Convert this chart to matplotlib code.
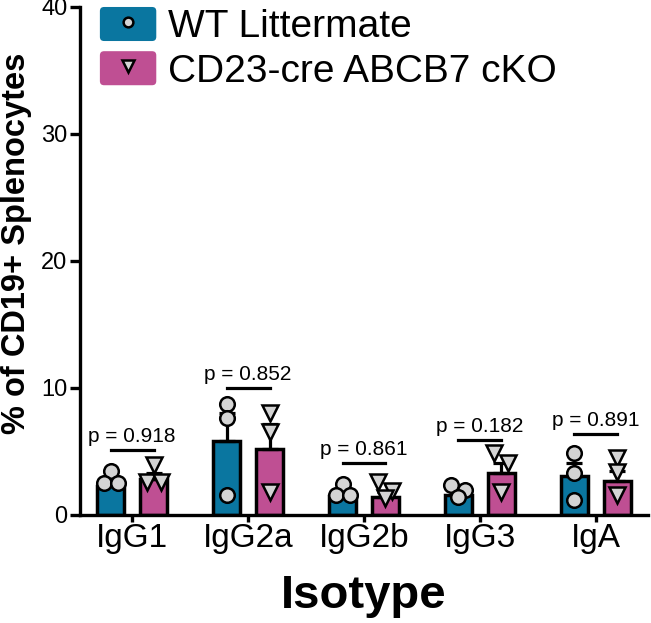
import matplotlib
matplotlib.use("Agg")
import matplotlib.pyplot as plt
import numpy as np
from matplotlib.patches import Patch, FancyBboxPatch
from matplotlib.lines import Line2D
from matplotlib.legend_handler import HandlerPatch, HandlerTuple

plt.rcParams['font.family'] = ['Liberation Sans', 'DejaVu Sans']

isotypes = ['IgG1', 'IgG2a', 'IgG2b', 'IgG3', 'IgA']
groups = ['WT Littermate', 'CD23-cre ABCB7 cKO']

wt_mean = [2.3, 5.85, 1.5, 1.6, 3.1]
wt_sem = [0.4, 2.2, 0.25, 0.3, 1.0]
ko_mean = [2.8, 5.2, 1.4, 3.3, 2.65]
ko_sem = [0.5, 2.0, 0.4, 0.8, 0.85]

wt_points = [[3.5, 2.5, 2.5], [8.75, 7.65, 1.55], [2.45, 1.6, 1.6],
             [2.35, 1.95, 1.4], [4.9, 3.3, 1.2]]
ko_points = [[3.9, 2.6, 2.6], [8.0, 6.5, 1.8], [2.6, 1.9, 1.3],
             [4.85, 4.1, 1.8], [4.45, 3.35, 1.55]]

p_values = ['0.918', '0.852', '0.861', '0.182', '0.891']
p_heights = [5.1, 10.0, 4.1, 5.9, 6.4]

blue = '#0a76a0'
pink = '#bf4f93'
grey = '#d4d4d4'

fig = plt.figure(figsize=(6.51, 6.23), dpi=100)
ax = fig.add_axes([0.1229, 0.1734, 0.8725, 0.8154])
ax.set_xlim(-0.45, 4.45)
ax.set_ylim(0, 40)

x = np.arange(len(isotypes))
off = 0.185
w = 0.23


def spread(xc, vals):
    # put points that sit close in y into one row, centred on the bar
    inv = ax.transData.inverted()
    cx, _ = ax.transData.transform((xc, 0))
    order = sorted(range(len(vals)), key=lambda j: -vals[j])
    rows = []
    for j in order:
        py = ax.transData.transform((xc, vals[j]))[1]
        if rows and abs(rows[-1][0] - py) < 10.5:
            rows[-1][1].append(j)
        else:
            rows.append((py, [j]))
    out = [xc] * len(vals)
    for _, members in rows:
        n = len(members)
        for k, j in enumerate(members):
            px = cx + (k - (n - 1) / 2) * 14
            out[j] = inv.transform((px, 0))[0]
    return out


for means, sems, pts, dx, col, mk in [(wt_mean, wt_sem, wt_points, -off, blue, 'o'),
                                      (ko_mean, ko_sem, ko_points, off, pink, 'v')]:
    ax.bar(x + dx, means, width=w, color=col, edgecolor='black', linewidth=2.5, zorder=2)
    ax.errorbar(x + dx, means, yerr=[np.zeros(len(sems)), sems], fmt='none',
                ecolor='black', elinewidth=2.3, capsize=5.5, capthick=2.3, zorder=3)
    for i, vals in enumerate(pts):
        xs = spread(x[i] + dx, vals)
        ax.plot(xs, vals, linestyle='', marker=mk, markersize=10.5 if mk == 'o' else 11.5,
                markerfacecolor=grey, markeredgecolor='black', markeredgewidth=1.8,
                zorder=4, clip_on=False)

for i, (p, h) in enumerate(zip(p_values, p_heights)):
    ax.plot([x[i] - off, x[i] + off], [h, h], color='black', linewidth=2.3, zorder=3)
    ax.annotate(f'p = {p}', (x[i], h), xytext=(0, 3), textcoords='offset points',
                ha='center', va='bottom', fontsize=15)

ax.spines['top'].set_visible(False)
ax.spines['right'].set_visible(False)
for s in ['left', 'bottom']:
    ax.spines[s].set_linewidth(2.4)

ax.set_yticks([0, 10, 20, 30, 40])
ax.set_xticks(x)
ax.set_xticklabels(isotypes)
ax.tick_params(axis='y', labelsize=17, width=2.4, length=7, pad=2)
ax.tick_params(axis='x', labelsize=24, width=2.4, length=5, pad=1)

ax.set_ylabel('% of CD19+ Splenocytes', fontsize=23.5, fontweight='bold')
ax.yaxis.set_label_coords(-0.111, 0.535)
ax.yaxis.label.set_va('center')
ax.set_xlabel('Isotype', fontsize=34, fontweight='bold', labelpad=14)


def rounded(legend, orig_handle, xdescent, ydescent, width, height, fontsize):
    return FancyBboxPatch((-xdescent, -ydescent), width, height,
                          boxstyle='round,pad=0,rounding_size=3')


handles = [(Patch(facecolor=blue, edgecolor='none'),
            Line2D([], [], linestyle='', marker='o', markersize=7, markerfacecolor=grey,
                   markeredgecolor='black', markeredgewidth=1.8)),
           (Patch(facecolor=pink, edgecolor='none'),
            Line2D([], [], linestyle='', marker='v', markersize=8, markerfacecolor=grey,
                   markeredgecolor='black', markeredgewidth=1.8))]
ax.legend(handles, groups, loc='upper left', bbox_to_anchor=(0.035, 1.0),
          frameon=False, fontsize=28, handlelength=1.45, handleheight=0.97,
          handletextpad=0.3, labelspacing=0.15, borderpad=0, borderaxespad=0,
          handler_map={Patch: HandlerPatch(patch_func=rounded),
                       tuple: HandlerTuple(ndivide=1, pad=0)})

fig.savefig('out.png', dpi=100)
